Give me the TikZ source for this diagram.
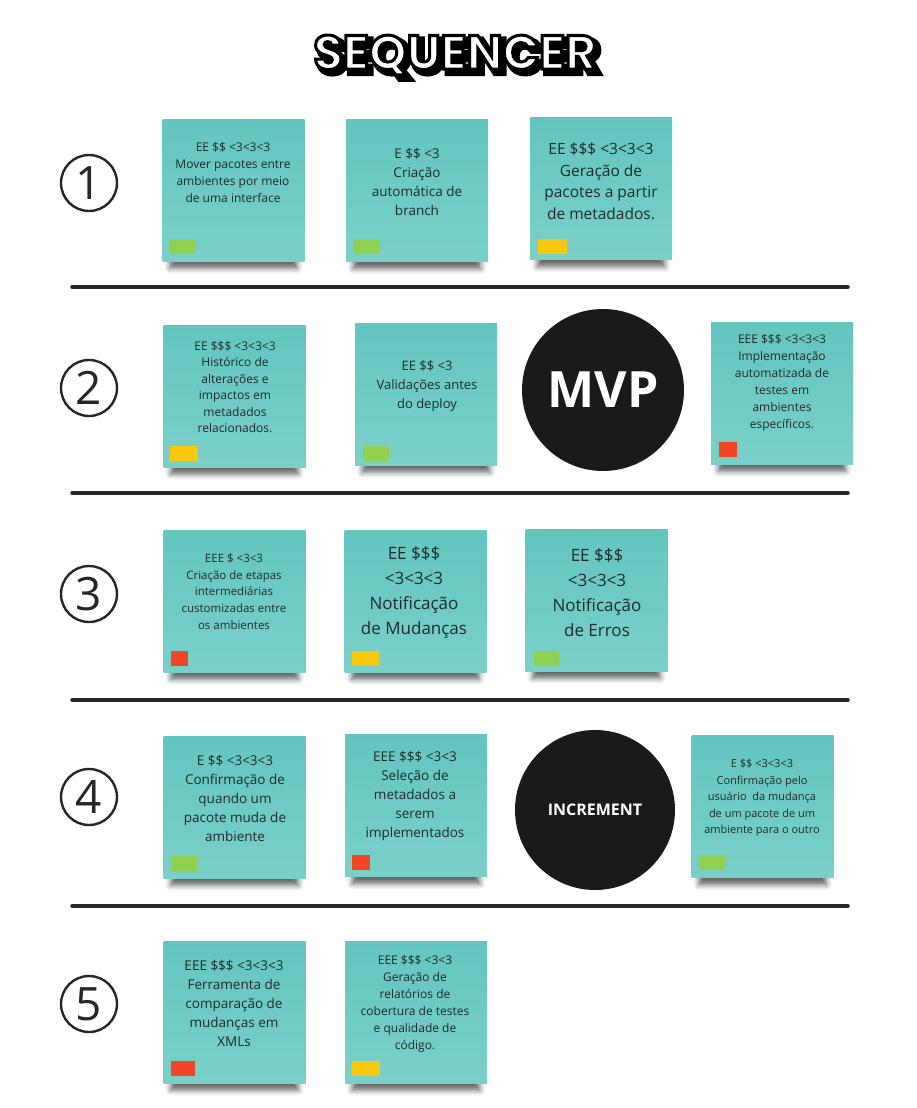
\documentclass[tikz,border=0pt]{standalone}
\usepackage{fontspec}
\setmainfont{Open Sans}
\newfontfamily\titlefont{Poppins}
\usetikzlibrary{shadows.blur}
\definecolor{notetop}{HTML}{63C5BF}
\definecolor{notebot}{HTML}{7AD0C9}
\definecolor{tgreen}{HTML}{8FD14F}
\definecolor{tyellow}{HTML}{FAC710}
\definecolor{tred}{HTML}{F24726}
\definecolor{inkdark}{HTML}{1A1A1A}
\definecolor{notetext}{HTML}{1F2B2B}
\definecolor{rule}{HTML}{262626}
\newcommand{\outlined}[2]{\special{pdf:literal direct 2 Tr #1 w 0 G}#2\special{pdf:literal direct 0 Tr 0.4 w}}
\begin{document}
\begin{tikzpicture}[x=1pt,y=-1pt,
  note/.style={draw=none,top color=notetop,bottom color=notebot,minimum width=142pt,minimum height=142pt,inner sep=0pt,
    blur shadow={shadow xshift=0pt,shadow yshift=-16pt,shadow scale=0.9,shadow opacity=60,shadow blur radius=6pt}},
  txt/.style={align=center,text=notetext,inner sep=0pt},
  tag/.style={draw=none,minimum width=26pt,minimum height=15pt,inner sep=0pt},
  num/.style={draw=rule,circle,line width=2.4pt,minimum size=56pt,inner sep=0pt,font=\fontsize{46}{46}\selectfont,text=rule},
  blob/.style={fill=inkdark,circle,inner sep=0pt,text=white,font=\bfseries},
  heading/.style={font=\titlefont\bfseries\fontsize{48}{48}\selectfont,inner sep=0pt},
  sep/.style={draw=rule,line width=3.5pt,line cap=round}]
  \useasboundingbox (0,0) rectangle (916,1108);
  \node[heading,text=black] (ttlshadow) at (459,59) {\outlined{6}{SEQUENCER}};
  \node[heading,text=white] (ttl) at (455,55) {\outlined{3}{SEQUENCER}};
  \node[num] (c1) at (89,183) {1};
  \node[num] (c2) at (89,388) {2};
  \node[num] (c3) at (89,594) {3};
  \node[num] (c4) at (89,797) {4};
  \node[num] (c5) at (89,1004) {5};
  \draw[sep] (72,287) -- (848,287);
  \draw[sep] (72,493) -- (848,493);
  \draw[sep] (72,700) -- (848,700);
  \draw[sep] (72,906) -- (848,906);
  \node[note] (n1) at (233.5,190) {};
  \node[note] (n2) at (417,190.5) {};
  \node[note] (n3) at (601,188.5) {};
  \node[note] (n4) at (234.5,396) {};
  \node[note] (n5) at (426,394) {};
  \node[note] (n6) at (782,393) {};
  \node[note] (n7) at (234.5,601) {};
  \node[note] (n8) at (415.5,601) {};
  \node[note] (n9) at (596.5,600) {};
  \node[note] (n10) at (234.5,807) {};
  \node[note] (n11) at (416,805.5) {};
  \node[note] (n12) at (762.5,806.5) {};
  \node[note] (n13) at (234.5,1012) {};
  \node[note] (n14) at (416,1012) {};
  \node[blob,minimum size=162pt,font=\bfseries\fontsize{50}{50}\selectfont] (mvp) at (603,390) {MVP};
  \node[blob,minimum size=160pt,font=\bfseries\fontsize{16}{16}\selectfont] (inc) at (595,810) {INCREMENT};
  \node[txt,font=\fontsize{12}{17}\selectfont] (t1) at (233,172.5) {EE \$\$ <3<3<3\\Mover pacotes entre\\ambientes por meio\\de uma interface};
  \node[txt,font=\fontsize{13.5}{19}\selectfont] (t2) at (417,181.5) {E \$\$ <3\\Criação\\automática de\\branch};
  \node[txt,font=\fontsize{15.5}{21.5}\selectfont] (t3) at (601,181) {EE \$\$\$ <3<3<3\\Geração de\\pacotes a partir\\de metadados.};
  \node[txt,font=\fontsize{12}{16.5}\selectfont] (t4) at (235,387) {EE \$\$\$ <3<3<3\\Histórico de\\alterações e\\impactos em\\metadados\\relacionados.};
  \node[txt,font=\fontsize{13}{19}\selectfont] (t5) at (427,386) {EE \$\$ <3\\Validações antes\\do deploy};
  \node[txt,font=\fontsize{12}{17}\selectfont] (t6) at (782,382.5) {EEE \$\$\$ <3<3<3\\Implementação\\automatizada de\\testes em\\ambientes\\específicos.};
  \node[txt,font=\fontsize{11.5}{16.7}\selectfont] (t7) at (234,591.5) {EEE \$ <3<3\\Criação de etapas\\intermediárias\\customizadas entre\\os ambientes};
  \node[txt,font=\fontsize{17}{25}\selectfont] (t8) at (414,592.5) {EE \$\$\$\\<3<3<3\\Notificação\\de Mudanças};
  \node[txt,font=\fontsize{17}{25}\selectfont] (t9) at (597,592.5) {EE \$\$\$\\<3<3<3\\Notificação\\de Erros};
  \node[txt,font=\fontsize{13.5}{19}\selectfont] (t10) at (235,798) {E \$\$ <3<3<3\\Confirmação de\\quando um\\pacote muda de\\ambiente};
  \node[txt,font=\fontsize{13.5}{19}\selectfont] (t11) at (415,795.5) {EEE \$\$\$ <3<3\\Seleção de\\metadados a\\serem\\implementados};
  \node[txt,font=\fontsize{11}{16.5}\selectfont] (t12) at (762,798) {E \$\$ <3<3<3\\Confirmação pelo\\usuário \ da mudança\\de um pacote de um\\ambiente para o outro};
  \node[txt,font=\fontsize{13.5}{19}\selectfont] (t13) at (234,1003) {EEE \$\$\$ <3<3<3\\Ferramenta de\\comparação de\\mudanças em\\XMLs};
  \node[txt,font=\fontsize{12}{17}\selectfont] (t14) at (415,1003.5) {EEE \$\$\$ <3<3\\Geração de\\relatórios de\\cobertura de testes\\e qualidade de\\código.};
  \node[tag,fill=tgreen] (s1) at (183,246.5) {};
  \node[tag,fill=tgreen] (s2) at (367,246.5) {};
  \node[tag,fill=tyellow,minimum width=29pt] (s3) at (552.5,246.5) {};
  \node[tag,fill=tyellow,minimum width=28pt] (s4) at (184,453.5) {};
  \node[tag,fill=tgreen] (s5) at (376,453) {};
  \node[tag,fill=tred,minimum width=18pt] (s6) at (728,449.5) {};
  \node[tag,fill=tred,minimum width=17pt] (s7) at (179.5,658.5) {};
  \node[tag,fill=tyellow,minimum width=27pt] (s8) at (365.5,658) {};
  \node[tag,fill=tgreen,minimum width=25pt] (s9) at (546.5,658) {};
  \node[tag,fill=tgreen] (s10) at (184,863) {};
  \node[tag,fill=tred,minimum width=18pt] (s11) at (361,862.5) {};
  \node[tag,fill=tgreen] (s12) at (712,862.5) {};
  \node[tag,fill=tred,minimum width=24pt] (s13) at (183,1068.5) {};
  \node[tag,fill=tyellow,minimum width=28pt] (s14) at (366,1068.5) {};
\end{tikzpicture}
\end{document}
